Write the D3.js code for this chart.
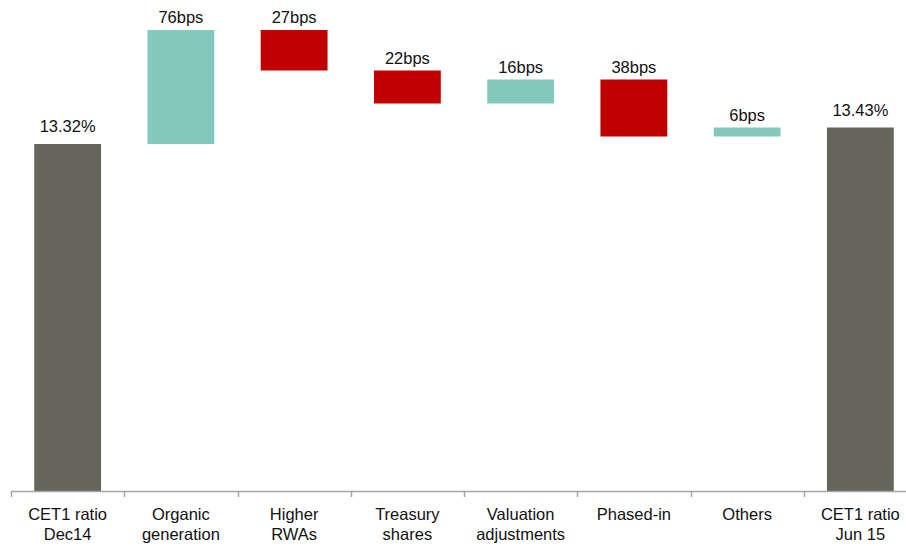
<!DOCTYPE html>
<html>
<head>
<meta charset="utf-8">
<script src="https://cdn.jsdelivr.net/npm/d3@7"></script>
<style>
  body { margin: 0; background: #fff; }
  text { font-family: "Liberation Sans", Arial, sans-serif; fill: #111; }
</style>
</head>
<body>
<div id="chart"></div>
<script>
// setting up constants
const FRAME_WIDTH = 906;
const FRAME_HEIGHT = 546;
const AXIS_Y = 491;

// data
const categories = [
  ["CET1 ratio", "Dec14"],
  ["Organic", "generation"],
  ["Higher", "RWAs"],
  ["Treasury", "shares"],
  ["Valuation", "adjustments"],
  ["Phased-in"],
  ["Others"],
  ["CET1 ratio", "Jun 15"]
];
// start, deltas (in %) and end
const startValue = 13.32;
const deltas = [0.76, -0.27, -0.22, 0.16, -0.38, 0.06];
const endValue = 13.43;
const labels = ["13.32%", "76bps", "27bps", "22bps", "16bps", "38bps", "6bps", "13.43%"];

const COLORS = {total: "#66665c", up: "#84c9bd", down: "#c00000"};

// build waterfall rows
const rows = [];
rows.push({i: 0, lo: 11, hi: startValue, type: "total"});
let run = startValue;
deltas.forEach(function(d, k) {
  const next = run + d;
  rows.push({i: k + 1, lo: Math.min(run, next), hi: Math.max(run, next), type: d >= 0 ? "up" : "down"});
  run = next;
});
rows.push({i: 7, lo: 11, hi: endValue, type: "total"});

const svg = d3.select("#chart")
  .append("svg")
    .attr("width", FRAME_WIDTH)
    .attr("height", FRAME_HEIGHT);

const xScale = d3.scaleBand()
  .domain(d3.range(categories.length))
  .range([11, 917])
  .paddingInner(0.41)
  .paddingOuter(0.205);

const yScale = d3.scaleLinear()
  .domain([11, 14.4])
  .range([AXIS_Y + 1, AXIS_Y + 1 - 3.4 * 150]);

// bars
svg.append("g")
  .selectAll("rect")
  .data(rows)
  .enter()
  .append("rect")
    .attr("x", d => xScale(d.i))
    .attr("width", xScale.bandwidth())
    .attr("y", d => yScale(d.hi))
    .attr("height", d => yScale(d.lo) - yScale(d.hi))
    .style("fill", d => COLORS[d.type]);

// value labels
svg.append("g")
  .selectAll("text")
  .data(rows)
  .enter()
  .append("text")
    .attr("x", d => xScale(d.i) + xScale.bandwidth() / 2)
    .attr("y", d => yScale(d.hi) - (d.type === "total" ? 12 : 7))
    .attr("text-anchor", "middle")
    .style("font-size", "16.5px")
    .text(d => labels[d.i]);

// x axis line and ticks at band edges
const step = xScale.step();
const axis = svg.append("g");
axis.append("line")
  .attr("x1", 11).attr("x2", FRAME_WIDTH)
  .attr("y1", AXIS_Y + 0.5).attr("y2", AXIS_Y + 0.5)
  .style("stroke", "#a6a6a6")
  .style("stroke-width", 1.5);
axis.selectAll(".tick")
  .data(d3.range(categories.length))
  .enter()
  .append("line")
    .attr("x1", d => Math.round(11 + d * step) + 0.5)
    .attr("x2", d => Math.round(11 + d * step) + 0.5)
    .attr("y1", AXIS_Y)
    .attr("y2", AXIS_Y + 6)
    .style("stroke", "#a6a6a6")
    .style("stroke-width", 1.5);

// category labels
const cat = svg.append("g")
  .selectAll("text")
  .data(categories)
  .enter()
  .append("text")
    .attr("x", (d, i) => xScale(i) + xScale.bandwidth() / 2)
    .attr("y", 520)
    .attr("text-anchor", "middle")
    .style("font-size", "16.5px");
cat.selectAll("tspan")
  .data(d => d)
  .enter()
  .append("tspan")
    .attr("x", function() { return d3.select(this.parentNode).attr("x"); })
    .attr("dy", (d, j) => j === 0 ? 0 : 20)
    .text(d => d);
</script>
</body>
</html>
